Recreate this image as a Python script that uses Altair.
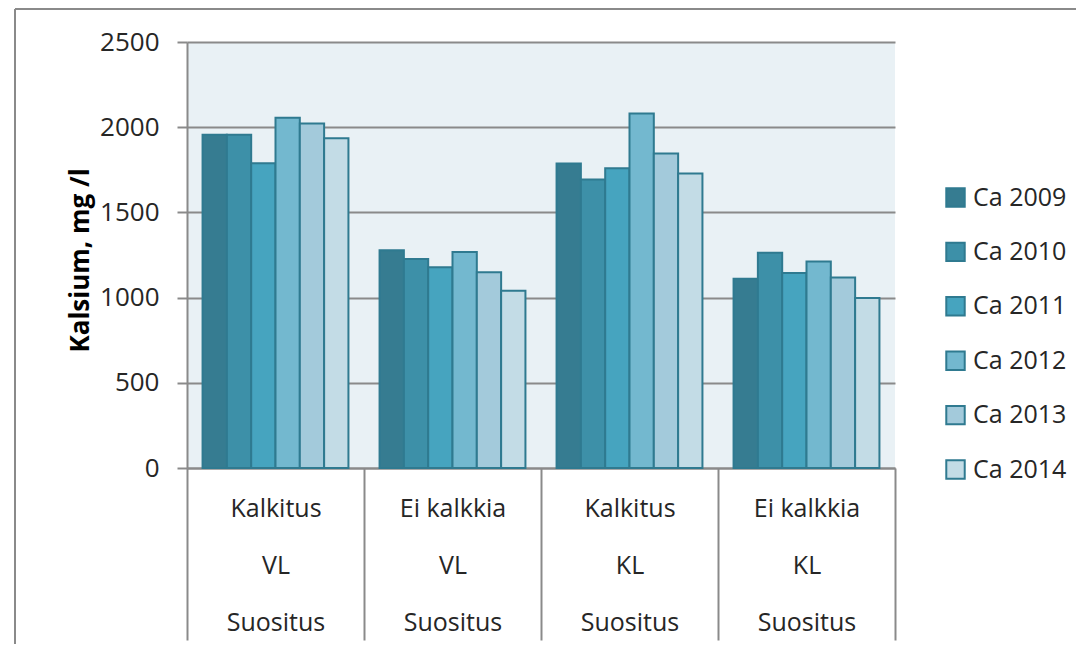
import altair as alt
import pandas as pd

# ---- data ----
categories = ["Kalkitus|VL|Suositus", "Ei kalkkia|VL|Suositus",
              "Kalkitus|KL|Suositus", "Ei kalkkia|KL|Suositus"]
series = ["Ca 2009", "Ca 2010", "Ca 2011", "Ca 2012", "Ca 2013", "Ca 2014"]
ca_2009 = [1955, 1278, 1787, 1110]
ca_2010 = [1955, 1227, 1693, 1263]
ca_2011 = [1788, 1178, 1759, 1145]
ca_2012 = [2055, 1268, 2080, 1212]
ca_2013 = [2021, 1149, 1845, 1118]
ca_2014 = [1935, 1040, 1728, 998]
y_ticks = [0, 500, 1000, 1500, 2000, 2500]

colors = ["#367C91", "#3D90A8", "#46A4BF", "#73B8CF", "#A3CADB", "#C3DCE6"]
STROKE = "#2F7A90"
GRID = "#8A8A8A"
TEXT = "#262626"
FONT = "Open Sans"

values = [ca_2009, ca_2010, ca_2011, ca_2012, ca_2013, ca_2014]
rows = []
for s, vals in zip(series, values):
    for c, v in zip(categories, vals):
        rows.append({"category": c, "series": s, "value": v})
df = pd.DataFrame(rows)

bars = alt.Chart(df).mark_bar(stroke=STROKE, strokeWidth=2).encode(
    x=alt.X(
        "category:N", sort=categories,
        scale=alt.Scale(paddingInner=0, paddingOuter=0),
        axis=alt.Axis(
            title=None, labelExpr="split(datum.label, '|')", labelAngle=0,
            tickBand="extent", tickSize=172, tickWidth=2, tickColor=GRID,
            domainColor=GRID, domainWidth=2, labelPadding=-144,
            labelBaseline="top", labelLineHeight=57, labelFontSize=25,
            labelFont=FONT, labelColor=TEXT, labelOverlap=False,
            labelBound=False, labelFlush=False, grid=False,
        ),
    ),
    xOffset=alt.XOffset(
        "series:N", sort=series,
        scale=alt.Scale(paddingInner=0, paddingOuter=0.64),
    ),
    y=alt.Y(
        "value:Q",
        scale=alt.Scale(domain=[0, 2500], nice=False),
        axis=alt.Axis(
            values=y_ticks, format="d", title="Kalsium, mg /l",
            titleX=-99, titleY=218, titleAngle=270, titleAlign="center",
            titleBaseline="alphabetic", titleFont=FONT, titleFontSize=26,
            titleFontWeight="bold", titleColor="#000000",
            labelFont=FONT, labelFontSize=26, labelColor=TEXT, labelPadding=18,
            tickSize=10, tickWidth=2, tickColor=GRID,
            domainColor=GRID, domainWidth=2,
            grid=True, gridColor=GRID, gridWidth=2,
        ),
    ),
    color=alt.Color(
        "series:N", sort=series,
        scale=alt.Scale(domain=series, range=colors),
        legend=alt.Legend(
            title=None, orient="none", legendX=756, legendY=143,
            symbolType="square", symbolSize=340, symbolStrokeColor=STROKE,
            symbolStrokeWidth=2, labelFontSize=25, labelFont=FONT,
            labelColor=TEXT, rowPadding=27.4, labelOffset=5, padding=0,
        ),
    ),
)

one = alt.Data(values=[{"k": 1}])
frame_top = alt.Chart(one).mark_rule(color=GRID, strokeWidth=2).encode(
    x=alt.value(-172), x2=alt.value(1000), y=alt.value(-33)
)
frame_left = alt.Chart(one).mark_rule(color=GRID, strokeWidth=2).encode(
    x=alt.value(-172), y=alt.value(-33), y2=alt.value(800)
)

chart = alt.layer(frame_top, frame_left, bars).properties(
    width=708, height=426,
    autosize=alt.AutoSizeParams(type="none"),
    padding={"left": 179, "top": 34, "right": 181, "bottom": 176},
).configure_view(fill="#E9F1F5", strokeWidth=0)

chart.save("out.html", embed_options={"renderer": "svg", "actions": False})
